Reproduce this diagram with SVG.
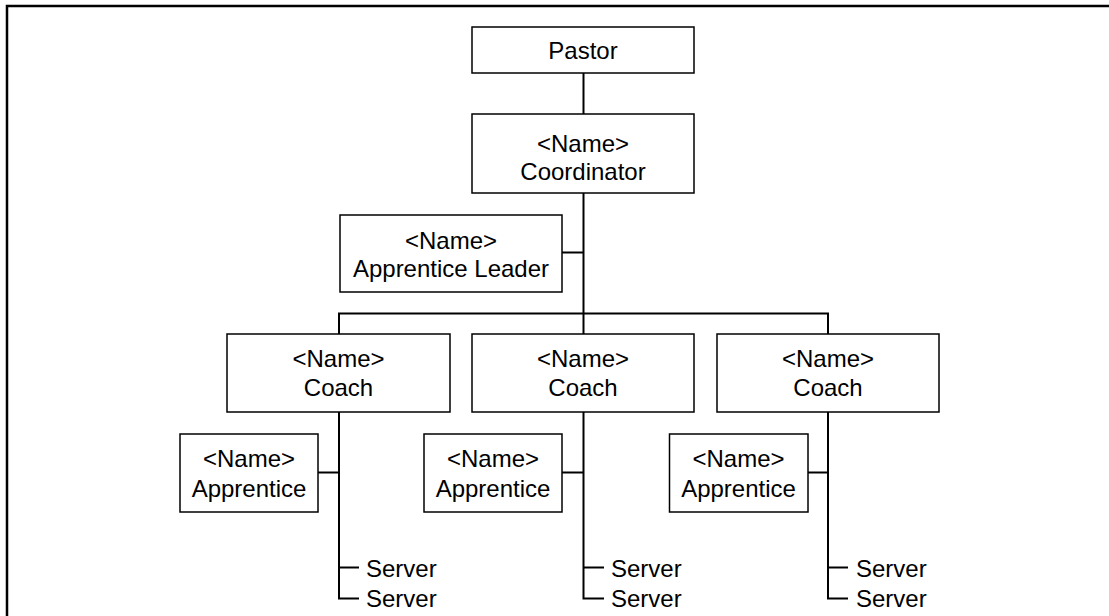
<svg xmlns="http://www.w3.org/2000/svg" width="1109" height="616" viewBox="0 0 1109 616">
  <style>
    .box { fill: #fff; stroke: #000; stroke-width: 1.5; }
    .lbl { font-family: "Liberation Sans", Arial, sans-serif; font-size: 24px; fill: #000; text-anchor: middle; }
    .srv { font-family: "Liberation Sans", Arial, sans-serif; font-size: 24px; fill: #000; }
    .con { fill: none; stroke: #000; stroke-width: 2; }
  </style>
  <rect width="1109" height="616" fill="#fff"/>
  <!-- page frame -->
  <path d="M7,616 V6 H1109" fill="none" stroke="#000" stroke-width="2.5"/>

  <g id="connectors">
    <path class="con" d="M583.5,73 V114" stroke-width="1.5"/>
    <path class="con" d="M583.5,193 V313"/>
    <path class="con" d="M562,252.5 H583.5"/>
    <path class="con" d="M339,334 V313.5 H828 V334"/>
    <path class="con" d="M583.5,313 V334"/>
    <!-- coach 1 branch -->
    <path class="con" d="M339,412 V598.5 H359"/>
    <path class="con" d="M318,472.5 H339"/>
    <path class="con" d="M339,567.5 H359"/>
    <!-- coach 2 branch -->
    <path class="con" d="M583.5,412 V598.5 H604"/>
    <path class="con" d="M562,472.5 H583.5"/>
    <path class="con" d="M583.5,567.5 H604"/>
    <!-- coach 3 branch -->
    <path class="con" d="M828,412 V598.5 H848"/>
    <path class="con" d="M808,472.5 H828"/>
    <path class="con" d="M828,567.5 H848"/>
  </g>

  <g id="pastor">
    <rect class="box" x="472" y="27" width="222" height="46"/>
    <text class="lbl" x="583" y="59">Pastor</text>
  </g>
  <g id="coordinator">
    <rect class="box" x="472" y="114" width="222" height="79"/>
    <text class="lbl" x="583" y="151.5">&lt;Name&gt;</text>
    <text class="lbl" x="583" y="180">Coordinator</text>
  </g>
  <g id="apprentice-leader">
    <rect class="box" x="340" y="215" width="222" height="77"/>
    <text class="lbl" x="451" y="249">&lt;Name&gt;</text>
    <text class="lbl" x="451" y="277">Apprentice Leader</text>
  </g>

  <g id="coach-1">
    <rect class="box" x="227" y="334" width="223" height="78"/>
    <text class="lbl" x="338.5" y="367">&lt;Name&gt;</text>
    <text class="lbl" x="338.5" y="396">Coach</text>
  </g>
  <g id="coach-2">
    <rect class="box" x="472" y="334" width="222" height="78"/>
    <text class="lbl" x="583" y="367">&lt;Name&gt;</text>
    <text class="lbl" x="583" y="396">Coach</text>
  </g>
  <g id="coach-3">
    <rect class="box" x="717" y="334" width="222" height="78"/>
    <text class="lbl" x="828" y="367">&lt;Name&gt;</text>
    <text class="lbl" x="828" y="396">Coach</text>
  </g>

  <g id="apprentice-1">
    <rect class="box" x="180" y="434" width="138" height="78"/>
    <text class="lbl" x="249" y="467">&lt;Name&gt;</text>
    <text class="lbl" x="249" y="497">Apprentice</text>
  </g>
  <g id="apprentice-2">
    <rect class="box" x="424" y="434" width="138" height="78"/>
    <text class="lbl" x="493" y="467">&lt;Name&gt;</text>
    <text class="lbl" x="493" y="497">Apprentice</text>
  </g>
  <g id="apprentice-3">
    <rect class="box" x="669.5" y="434" width="138.5" height="78"/>
    <text class="lbl" x="738.5" y="467">&lt;Name&gt;</text>
    <text class="lbl" x="738.5" y="497">Apprentice</text>
  </g>

  <g id="servers-1">
    <text class="srv" x="366" y="576.5">Server</text>
    <text class="srv" x="366" y="607">Server</text>
  </g>
  <g id="servers-2">
    <text class="srv" x="611" y="576.5">Server</text>
    <text class="srv" x="611" y="607">Server</text>
  </g>
  <g id="servers-3">
    <text class="srv" x="856" y="576.5">Server</text>
    <text class="srv" x="856" y="607">Server</text>
  </g>
</svg>
